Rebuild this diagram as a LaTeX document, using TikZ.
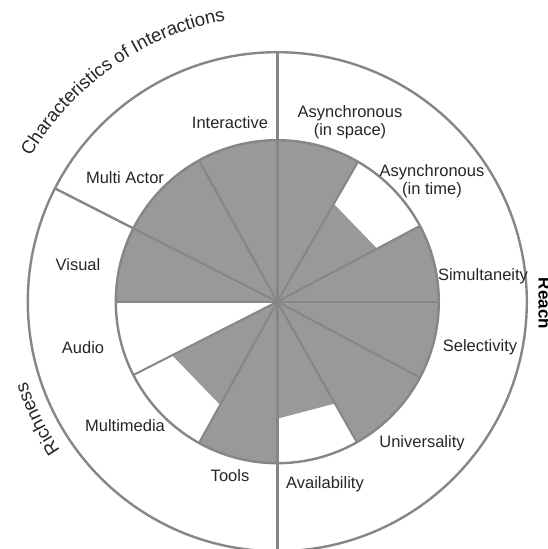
\documentclass[tikz,border=0pt]{standalone}
\usepackage{fontspec}
\setmainfont{Liberation Sans}
\usepackage{xcolor}
\usetikzlibrary{decorations.text}
\definecolor{wedgegrey}{HTML}{999999}
\definecolor{rulegrey}{HTML}{868686}
\definecolor{labelgrey}{HTML}{262626}
\tikzset{
    wedge/.style={fill=wedgegrey},
    rule/.style={draw=rulegrey, line width=1.2pt},
    spoke/.style={draw=rulegrey, line width=1pt},
    lbl/.style={text=labelgrey, font=\fontsize{8.25}{9}\selectfont, align=center, inner sep=0pt}}

\begin{document}
\begin{tikzpicture}[x=0.5pt, y=0.5pt,
      arclabel/.style={decorate, decoration={text along path, text align=center, text color=labelgrey,
        text={|\fontsize{9.3}{9.3}\selectfont|#1}}}]
  \useasboundingbox (-277.3,-247.3) rectangle (269.7,301.7);
  % Full wedges
  \foreach \from/\to in {60/90, 0/28, -28/0, -60.5/-28, -119/-90, 153/180, 119/153, 90/119}
    \fill[wedge] (0,0) -- (\from:161.5) arc[start angle=\from, end angle=\to, radius=161.5] -- cycle;
  % Partial wedges, cut off straight
  \foreach \from/\to/\len in {28/60/113, -90/-60.5/117, -153/-119/118}
    \fill[wedge] (0,0) -- (\from:\len) -- (\to:\len) -- cycle;
  % Spokes
  \coordinate (c) at (0,0);
  \foreach \ang in {60, 28, 0, -28, -60.5, -119, -153, 180, 153, 119}
    \draw[spoke] (c) -- (\ang:161.5);
  % Rings and dividers
  \draw[rule] (c) circle[radius=161.5];
  \draw[rule] (c) circle[radius=249.5];
  \draw[rule] (90:249.5) -- (-90:249.5);
  \draw[rule] (153:161.5) -- (153:249.5);
  % Sector labels
  \node[lbl] (interactive) at (-47.3, 178.7) {Interactive};
  \node[lbl] (multiactor) at (-152.3, 123.7) {Multi Actor};
  \node[lbl] (visual) at (-199.3, 36.7) {Visual};
  \node[lbl] (audio) at (-194.3, -46.3) {Audio};
  \node[lbl] (multimedia) at (-152.3, -124.3) {Multimedia};
  \node[lbl] (tools) at (-47.3, -174.3) {Tools};
  \node[lbl] (availability) at (47.7, -182.3) {Availability};
  \node[lbl] (universality) at (144.7, -141.3) {Universality};
  \node[lbl] (selectivity) at (202.7, -45.3) {Selectivity};
  \node[lbl] (simultaneity) at (205.7, 25.7) {Simultaneity};
  \node[lbl] (asynctime) at (154.7, 120.7) {Asynchronous\\(in time)};
  \node[lbl] (asyncspace) at (72.7, 179.7) {Asynchronous\\(in space)};
  % Group labels
  \node[text=black, font=\bfseries\fontsize{8.5}{9}\selectfont, rotate=-90, anchor=base, inner sep=0pt]
    (reach) at (261.2, -1.8) {Reach};
  \path[arclabel=Characteristics of Interactions] (156:286) arc[start angle=156, end angle=94, radius=286];
  \path[arclabel=Richness] (218:263) arc[start angle=218, end angle=194, radius=263];
\end{tikzpicture}
\end{document}
